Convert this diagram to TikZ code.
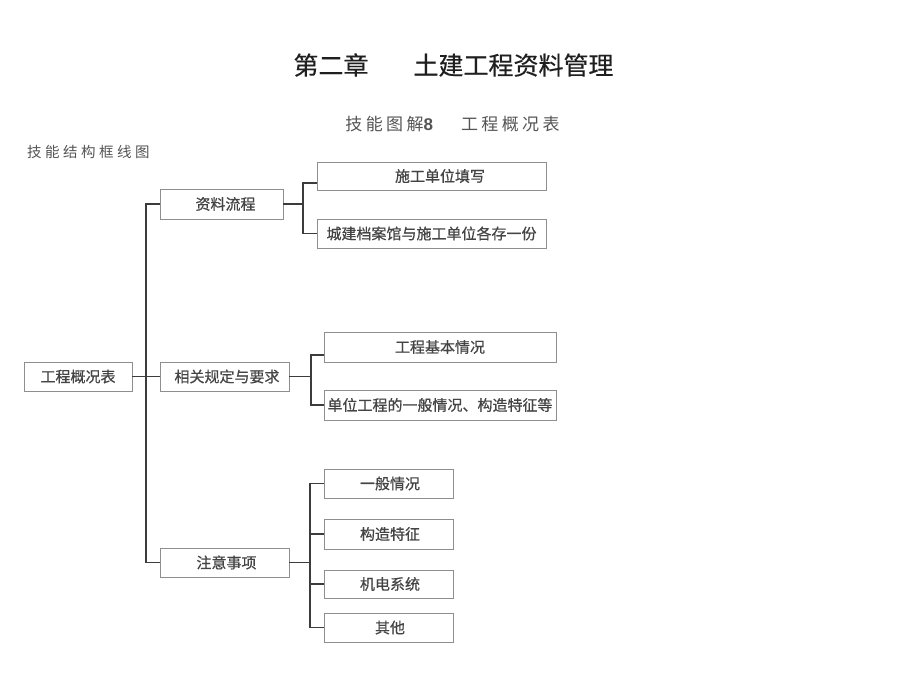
\documentclass[tikz,border=0pt]{standalone}
\usepackage{fontspec}
\setmainfont{Noto Sans CJK SC}
\newfontfamily\latinbold{Liberation Sans}
\definecolor{boxgray}{HTML}{8E8E8E}
\definecolor{linegray}{HTML}{3C3C3C}
\definecolor{txtgray}{HTML}{444444}
\definecolor{headgray}{HTML}{555555}
\begin{document}
\begin{tikzpicture}[x=1pt,y=-1pt,
  box/.style={draw=boxgray,line width=0.9pt,minimum width=#1,inner sep=0pt,
    font=\fontsize{15}{15}\selectfont\addfontfeature{FakeBold=0.6},text=txtgray},
  conn/.style={draw=linegray,line width=1.2pt},
  title/.style={font=\fontsize{25}{25}\selectfont\addfontfeature{FakeBold=0.4},text=black!88,inner sep=0pt},
  subtitle/.style={font=\fontsize{17}{17}\selectfont\addfontfeature{LetterSpace=20},text=headgray,inner sep=0pt},
  lefthead/.style={font=\fontsize{14.5}{14.5}\selectfont\addfontfeature{LetterSpace=24},text=headgray,inner sep=0pt}]
\fill[white] (0,0) rectangle (906,682);
\useasboundingbox (0,0) rectangle (906,682);

% headings
\node[title] (ttl) at (453.5,65) {第二章\hspace{45pt}土建工程资料管理};
\node[subtitle] (sub) at (452.5,124) {技能图解{\latinbold\bfseries\addfontfeature{LetterSpace=0}8}\hspace{28pt}工程概况表};
\node[lefthead,anchor=west] (lh) at (27,152) {技能结构框线图};

% root
\node[box=108,minimum height=29] (root) at (78,376.5) {工程概况表};

% level 1
\node[box=123,minimum height=30] (b1) at (221.5,204) {\hspace*{8pt}资料流程};
\node[box=129,minimum height=29] (b2) at (224.5,376.5) {\hspace*{5pt}相关规定与要求};
\node[box=129,minimum height=29] (b3) at (224.5,562.5) {\hspace*{4pt}注意事项};

% level 2
\node[box=229,minimum height=28] (c11) at (431.5,176) {\hspace*{17pt}施工单位填写};
\node[box=229,minimum height=29] (c12) at (431.5,233.5) {城建档案馆与施工单位各存一份};
\node[box=232,minimum height=30] (c21) at (440,347) {工程基本情况};
\node[box=232,minimum height=30] (c22) at (440,405) {单位工程的一般情况、构造特征等};
\node[box=129,minimum height=29] (c31) at (388.5,483.5) {\hspace*{3pt}一般情况};
\node[box=129,minimum height=30] (c32) at (388.5,534) {\hspace*{3pt}构造特征};
\node[box=129,minimum height=28] (c33) at (388.5,584) {\hspace*{3pt}机电系统};
\node[box=129,minimum height=29] (c34) at (388.5,627.5) {\hspace*{3pt}其他};

% junction coordinates
\coordinate (t0) at (146,0);
\coordinate (j1) at (303,0);
\coordinate (j2) at (311,0);
\coordinate (j3) at (310,0);

% trunk
\draw[conn] (b1.west) -- (b1.west -| t0) -- (b3.west -| t0) -- (b3.west);
\draw[conn] (root.east) -- (root.east -| t0);
\draw[conn] (b2.west) -- (b2.west -| t0);

% group 1
\draw[conn] (b1.east) -- (b1.east -| j1);
\draw[conn] ([yshift=-7pt]c11.west) -| (j1 |- c12.west) -- (c12.west);

% group 2
\draw[conn] (b2.east) -- (b2.east -| j2);
\draw[conn] ([yshift=-8pt]c21.west) -| (j2 |- c22.west) -- (c22.west);

% group 3
\draw[conn] (b3.east) -- (b3.east -| j3);
\draw[conn] (c31.west) -| (j3 |- c34.west) -- (c34.west);
\draw[conn] (c32.west) -- (c32.west -| j3);
\draw[conn] (c33.west) -- (c33.west -| j3);
\end{tikzpicture}
\end{document}
